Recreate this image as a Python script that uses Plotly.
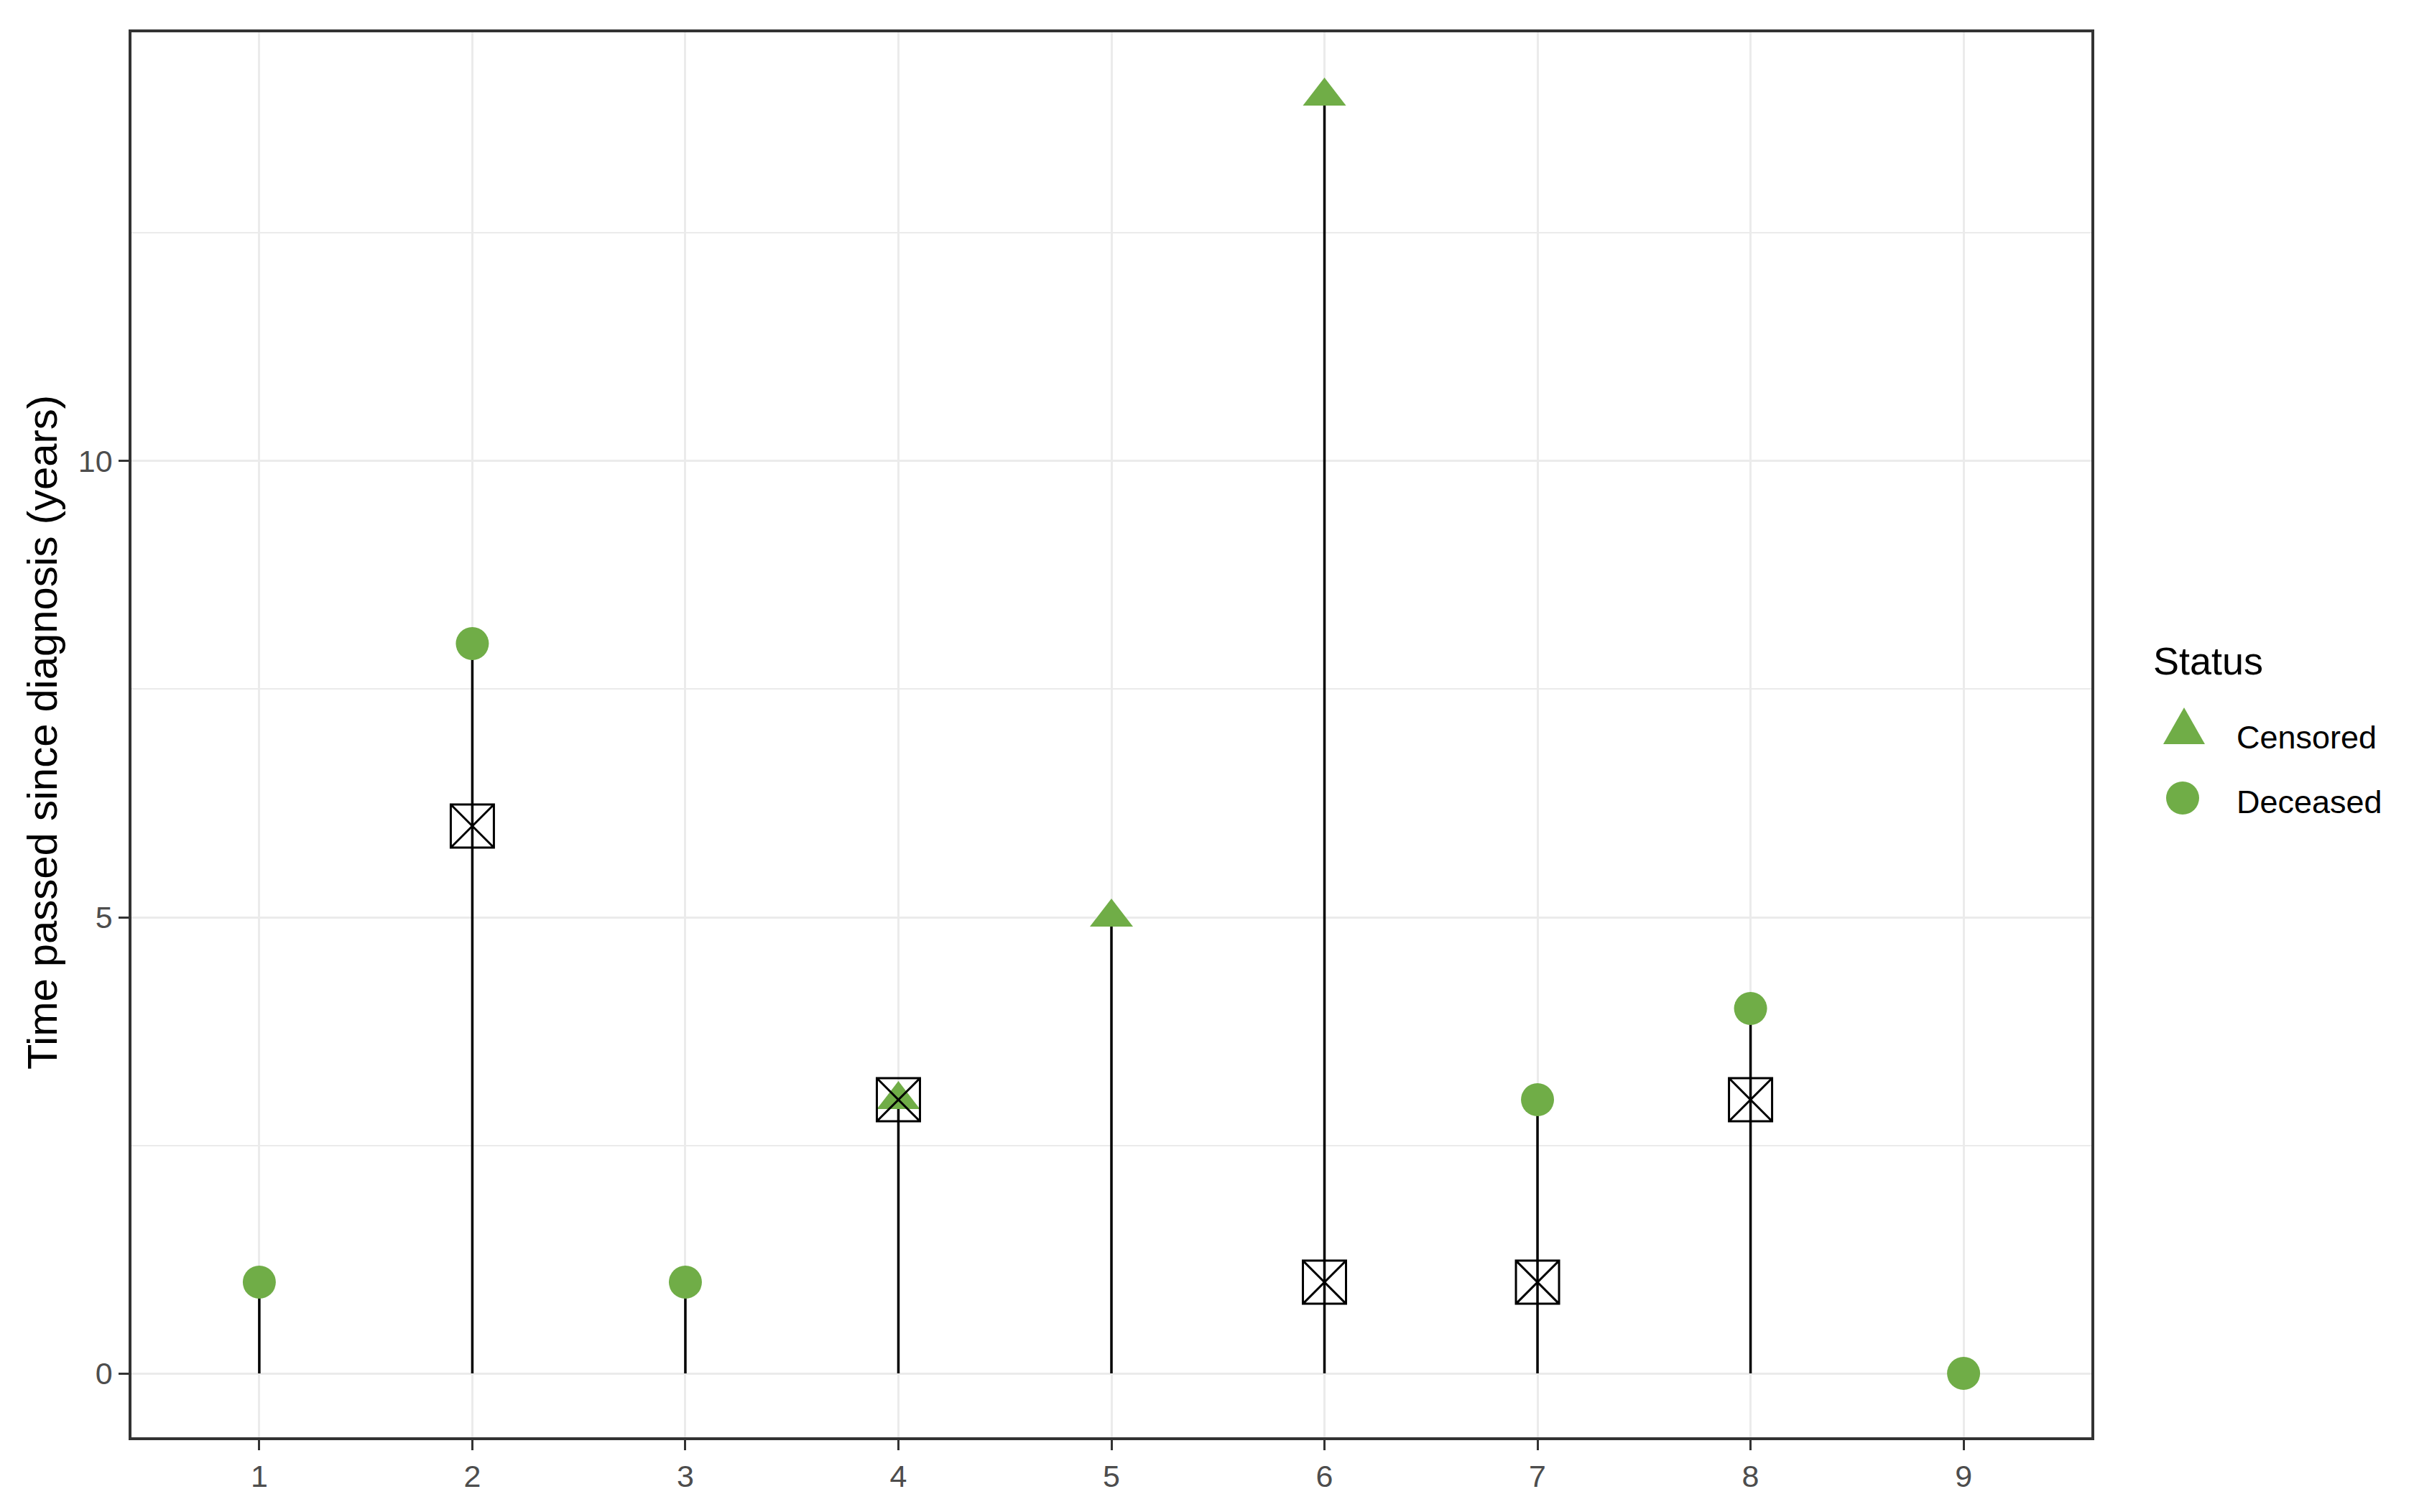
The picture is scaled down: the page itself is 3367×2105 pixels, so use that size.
import plotly.graph_objects as go

# --------------------------------------------------------------------------
# DATA
# --------------------------------------------------------------------------
subject = [1, 2, 3, 4, 5, 6, 7, 8, 9]
end_time = [1, 8, 1, 3, 5, 14, 3, 4, 0]
status = ["Deceased", "Deceased", "Deceased", "Censored", "Censored",
          "Censored", "Deceased", "Deceased", "Deceased"]

# intermediate events (boxed x)
event_subject = [2, 4, 6, 7, 8]
event_time = [6, 3, 1, 1, 3]

y_ticks = [0, 5, 10]

# --------------------------------------------------------------------------
# STYLE
# --------------------------------------------------------------------------
C_GREEN = "#70AD47"
C_GRID = "#EBEBEB"
C_AXIS = "#333333"
FONT = "Liberation Sans, Arial, sans-serif"

fig = go.Figure()

# follow-up segments from 0 to end time
seg_x, seg_y = [], []
for s, t in zip(subject, end_time):
    seg_x += [s, s, None]
    seg_y += [0, t, None]

fig.add_trace(
    go.Scatter(
        x=seg_x, y=seg_y, mode="lines",
        line=dict(color="black", width=3.5),
        hoverinfo="skip", showlegend=False,
    )
)

symbols = {"Censored": "triangle-up", "Deceased": "circle"}
sizes = {"Censored": 52, "Deceased": 46}
for st in ["Censored", "Deceased"]:
    xs = [s for s, k in zip(subject, status) if k == st]
    ys = [t for t, k in zip(end_time, status) if k == st]
    fig.add_trace(
        go.Scatter(
            x=xs, y=ys, mode="markers", name=st,
            marker=dict(symbol=symbols[st], size=sizes[st], color=C_GREEN,
                        line=dict(width=0)),
            showlegend=False,
        )
    )

fig.add_trace(
    go.Scatter(
        x=event_subject, y=event_time, mode="markers", name="Event",
        marker=dict(symbol="square-x-open", size=60, color="black",
                    line=dict(width=3, color="black")),
        showlegend=False,
    )
)

# --------------------------------------------------------------------------
# LEGEND (drawn by hand so keys keep their real size)
# --------------------------------------------------------------------------
W, H = 2728, 1956  # plot area size in px
L, B = 183, 2001


def px(x):
    return (x - L) / W


def py(y):
    return (B - y) / H


fig.add_annotation(
    x=px(2995), y=py(920), xref="paper", yref="paper", text="Status",
    showarrow=False, xanchor="left", yanchor="middle",
    font=dict(family=FONT, size=54, color="black"),
)
for label, yy in [("Censored", 1026), ("Deceased", 1116)]:
    fig.add_annotation(
        x=px(3111), y=py(yy), xref="paper", yref="paper", text=label,
        showarrow=False, xanchor="left", yanchor="middle",
        font=dict(family=FONT, size=45, color="black"),
    )

fig.add_shape(
    type="path", xref="paper", yref="paper",
    xsizemode="pixel", ysizemode="pixel",
    xanchor=px(3040), yanchor=py(1019),
    path="M -29,-17 L 29,-17 L 0,34 Z",
    fillcolor=C_GREEN, line=dict(width=0),
)
fig.add_shape(
    type="circle", xref="paper", yref="paper",
    xsizemode="pixel", ysizemode="pixel",
    xanchor=px(3038), yanchor=py(1111),
    x0=-23, x1=23, y0=-23, y1=23,
    fillcolor=C_GREEN, line=dict(width=0),
)

# y axis title
fig.add_annotation(
    x=px(58), y=py(1020), xref="paper", yref="paper",
    text="Time passed since diagnosis (years)", textangle=-90,
    showarrow=False, xanchor="center", yanchor="middle",
    font=dict(family=FONT, size=58, color="black"),
)

# page body has an 8px margin, so the figure is 8px smaller
fig.update_layout(
    width=3359,
    height=2097,
    margin=dict(l=175, r=456, t=37, b=104),
    paper_bgcolor="white",
    plot_bgcolor="white",
    font=dict(family=FONT, color="#4D4D4D"),
    showlegend=False,
    xaxis=dict(
        range=[0.4, 9.6],
        tickvals=subject,
        ticktext=[str(s) for s in subject],
        showgrid=True, gridcolor=C_GRID, gridwidth=3,
        zeroline=False,
        showline=True, linecolor=C_AXIS, linewidth=3.5, mirror=True,
        ticks="outside", ticklen=14, tickwidth=3, tickcolor=C_AXIS,
        tickfont=dict(family=FONT, size=43, color="#4D4D4D"),
    ),
    yaxis=dict(
        range=[-0.7, 14.7],
        tickvals=y_ticks,
        showgrid=True, gridcolor=C_GRID, gridwidth=3,
        minor=dict(dtick=2.5, tick0=0, showgrid=True, gridcolor=C_GRID,
                   gridwidth=1.5),
        zeroline=False,
        showline=True, linecolor=C_AXIS, linewidth=3.5, mirror=True,
        ticks="outside", ticklen=14, tickwidth=3, tickcolor=C_AXIS,
        tickfont=dict(family=FONT, size=43, color="#4D4D4D"),
    ),
)

fig.write_html("out.html")
